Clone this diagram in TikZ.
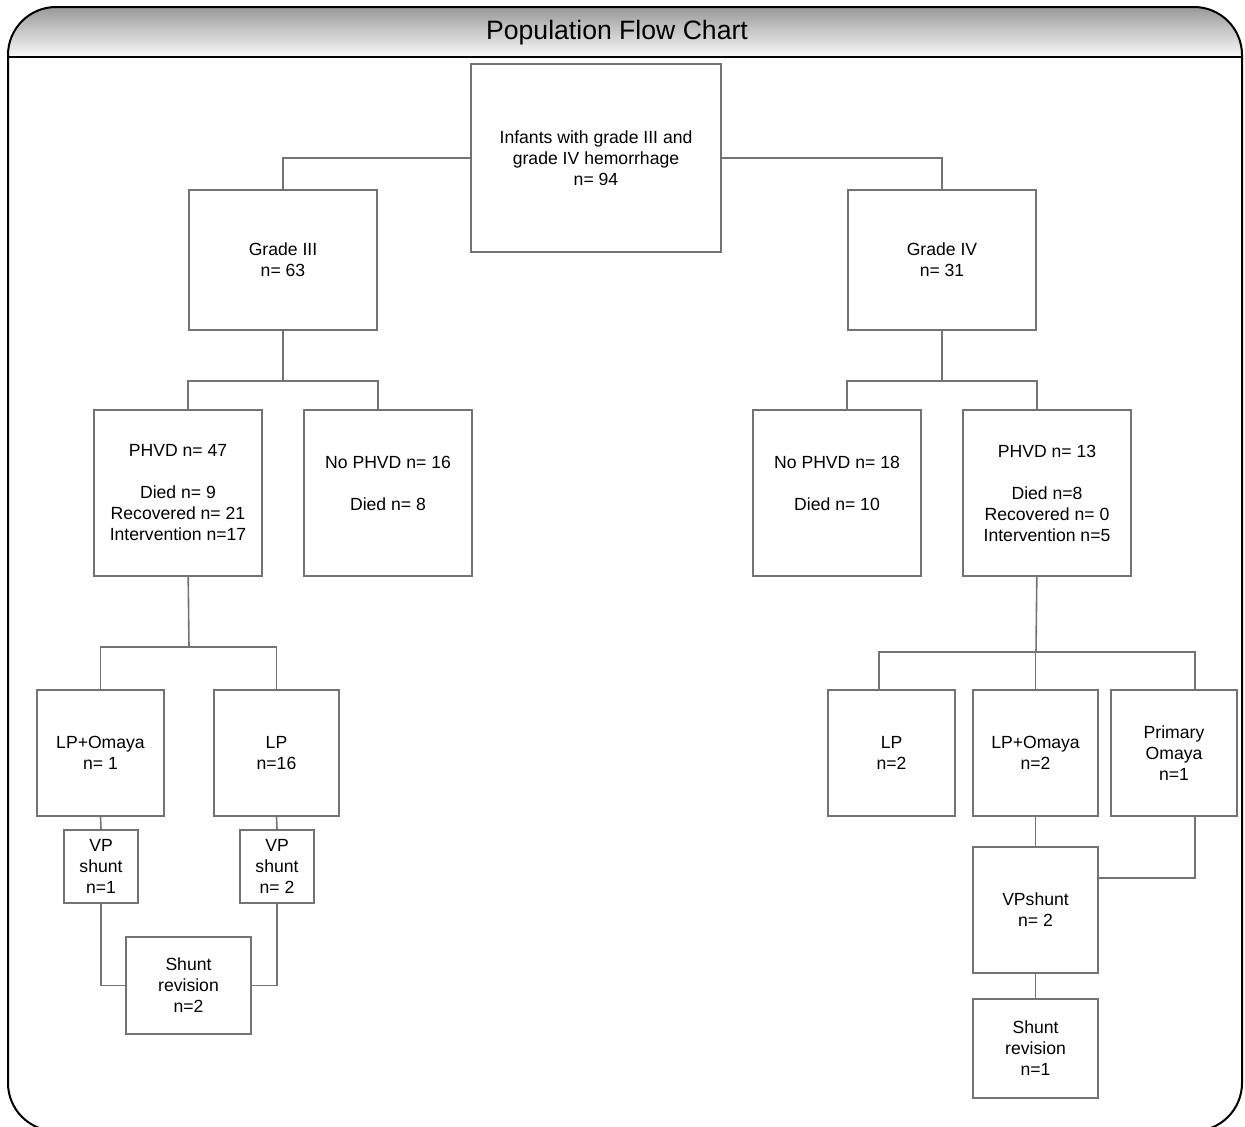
\documentclass[tikz,border=0pt]{standalone}
\usepackage{fontspec}
\setmainfont{Liberation Sans}
\usepackage{xcolor}
\usetikzlibrary{calc}

\begin{document}
\begin{tikzpicture}[x=0.5pt, y=-0.5pt,
  chartbox/.style={draw=black!55, line width=0.8pt, fill=white, align=center, inner sep=0pt,
    font=\fontsize{8.8}{10.5}\selectfont},
  conn/.style={draw=black!55, line width=0.8pt}]
\useasboundingbox (0,0) rectangle (1245,1126);
\clip (0,0) rectangle (1245,1126);
\begin{scope}
  \clip[rounded corners=24pt] (8,7) rectangle (1242,1131);
  \shade[top color=black!40, bottom color=black!2] (8,7) rectangle (1242,57);
\end{scope}
\draw[line width=1pt, rounded corners=24pt] (8,7) rectangle (1242,1131);
\draw[line width=1.2pt] (8,57) -- (1242,57);
\node[font=\fontsize{13.3}{16}\selectfont] (title) at (617,33) {Population Flow Chart};

\node[chartbox, minimum width=125pt, minimum height=94pt] (infants) at (596,158) {Infants with grade III and\\grade IV hemorrhage\\n= 94};
\node[chartbox, minimum width=94pt, minimum height=70pt] (gradeiii) at (283,260) {Grade III\\n= 63};
\node[chartbox, minimum width=94pt, minimum height=70pt] (gradeiv) at (942,260) {Grade IV\\n= 31};

\node[chartbox, minimum width=84pt, minimum height=83pt] (phvdiii) at (178,493) {PHVD n= 47\\[10.5pt]Died n= 9\\Recovered n= 21\\Intervention n=17};
\node[chartbox, minimum width=84pt, minimum height=83pt] (nophvdiii) at (388,493) {No PHVD n= 16\\[10.5pt]Died n= 8\\[-3.5pt]\strut};
\node[chartbox, minimum width=84pt, minimum height=83pt] (nophvdiv) at (837,493) {No PHVD n= 18\\[10.5pt]Died n= 10\\[-3.5pt]\strut};
\node[chartbox, minimum width=84pt, minimum height=83pt] (phvdiv) at (1047,493) {PHVD n= 13\\[10.5pt]Died n=8\\Recovered n= 0\\Intervention n=5};

\node[chartbox, minimum width=63.5pt, minimum height=63pt] (lpomiii) at (100.5,753) {LP+Omaya\\n= 1};
\node[chartbox, minimum width=62.5pt, minimum height=63pt] (lpiii) at (276.5,753) {LP\\n=16};
\node[chartbox, minimum width=37pt, minimum height=36.5pt] (vpiiia) at (101,866.5) {VP\\shunt\\n=1};
\node[chartbox, minimum width=37pt, minimum height=36.5pt] (vpiiib) at (277,866.5) {VP\\shunt\\n= 2};
\node[chartbox, minimum width=62.5pt, minimum height=48.5pt] (reviii) at (188.5,985.5) {Shunt\\revision\\n=2};

\node[chartbox, minimum width=63.5pt, minimum height=63pt] (lpiv) at (891.5,753) {LP\\n=2};
\node[chartbox, minimum width=62.5pt, minimum height=63pt] (lpomiv) at (1035.5,753) {LP+Omaya\\n=2};
\node[chartbox, minimum width=63pt, minimum height=63pt] (primiv) at (1174,753) {Primary\\Omaya\\n=1};
\node[chartbox, minimum width=62.5pt, minimum height=63pt] (vpiv) at (1035.5,910) {VPshunt\\n= 2};
\node[chartbox, minimum width=62.5pt, minimum height=49.5pt] (reviv) at (1035.5,1048.5) {Shunt\\revision\\n=1};

\draw[conn] (infants.west) -| (gradeiii.north);
\draw[conn] (infants.east) -| (gradeiv.north);
\coordinate (busiii) at (283,381);
\coordinate (busiv) at (942,381);
\draw[conn] (gradeiii.south) -- (busiii);
\draw[conn] (phvdiii.north -| gradeiii.south west) |- (busiii) -| (nophvdiii.north -| gradeiii.south east);
\draw[conn] (gradeiv.south) -- (busiv);
\draw[conn] (nophvdiv.north -| gradeiv.south west) |- (busiv) -| (phvdiv.north -| gradeiv.south east);

\coordinate (treatiii) at (189,647);
\coordinate (treativ) at (1036,652);
\draw[conn] (phvdiii.south -| gradeiii.south west) -- (treatiii);
\draw[conn] (lpomiii.north) |- (treatiii) -| (lpiii.north);
\draw[conn] (phvdiv.south -| gradeiv.south east) -- (treativ);
\draw[conn] ([xshift=-6.25pt]lpiv.north) |- (treativ) -| ([xshift=10.5pt]primiv.north);
\draw[conn] (lpomiv.north) -- (lpomiv.north |- treativ);

\draw[conn] (lpomiii.south) -- (vpiiia.north);
\draw[conn] (lpiii.south) -- (vpiiib.north);
\draw[conn] (vpiiia.south) |- (reviii.west);
\draw[conn] (vpiiib.south) |- (reviii.east);
\draw[conn] (lpomiv.south) -- (vpiv.north);
\draw[conn] ([xshift=10.5pt]primiv.south) |- ([yshift=16pt]vpiv.east);
\draw[conn] (vpiv.south) -- (reviv.north);
\end{tikzpicture}
\end{document}
